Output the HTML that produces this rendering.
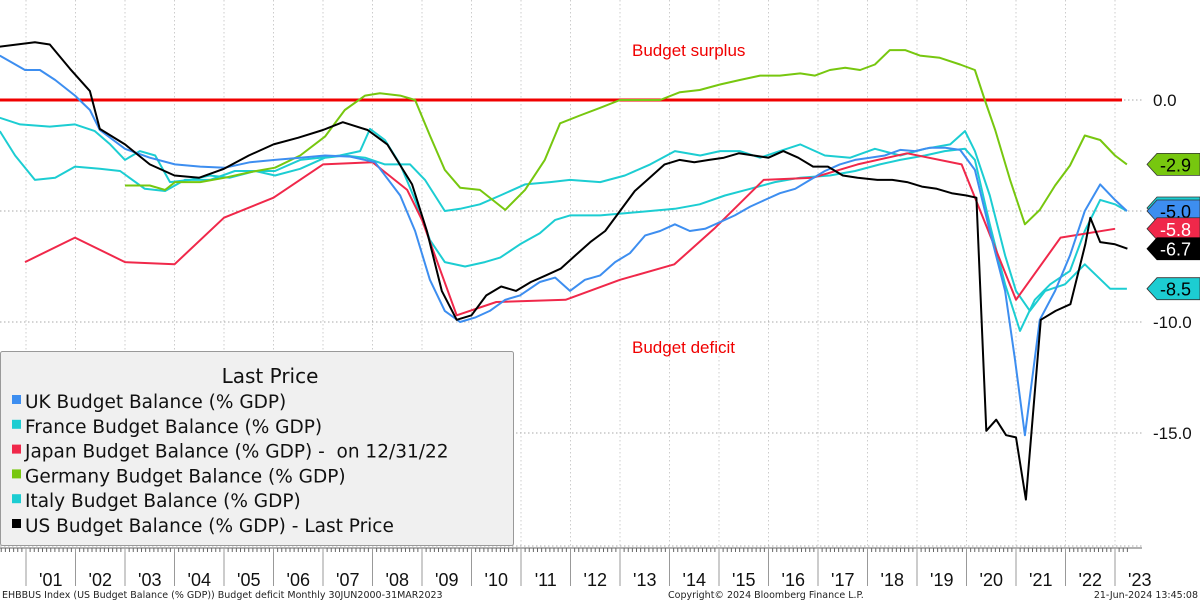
<!DOCTYPE html>
<html><head><meta charset="utf-8"><style>
body{margin:0;background:#fff;width:1200px;height:603px;overflow:hidden;font-family:"Liberation Sans","DejaVu Sans",sans-serif}
svg{display:block}
</style></head><body>
<svg id="chart" width="1200" height="603" viewBox="0 0 1200 603" xmlns="http://www.w3.org/2000/svg">
<g id="grid"></g>
<g id="series"></g>
<g id="axes"></g>
<text x="632" y="56" font-size="17" fill="#f00000">Budget surplus</text>
<text x="632" y="353" font-size="17" fill="#f00000">Budget deficit</text>
<g>
<rect x="0.5" y="351.5" width="513" height="194" fill="#f0f0f0" stroke="#999" rx="2"/>
<text x="270" y="383" font-size="20" font-family="DejaVu Sans, sans-serif" text-anchor="middle" fill="#111">Last Price</text>
<g id="legend-entries"></g>
</g>
<g font-family="DejaVu Sans, sans-serif" font-size="9.5" fill="#222">
<text x="2" y="598">EHBBUS Index (US Budget Balance (% GDP)) Budget deficit  Monthly 30JUN2000-31MAR2023</text>
<text x="668" y="598">Copyright© 2024 Bloomberg Finance L.P.</text>
<text x="1198" y="598" text-anchor="end">21-Jun-2024 13:45:08</text>
</g>
</svg>
<script>
const yTicks=[0,-5,-10,-15];
const yTickLabels=["0.0","","-10.0","-15.0"];
const yearLabels=["'01","'02","'03","'04","'05","'06","'07","'08","'09","'10","'11","'12","'13","'14","'15","'16","'17","'18","'19","'20","'21","'22","'23"];
const seriesNames=["UK Budget Balance (% GDP)","France Budget Balance (% GDP)","Japan Budget Balance (% GDP) -  on 12/31/22","Germany Budget Balance (% GDP)","Italy Budget Balance (% GDP)","US Budget Balance (% GDP) - Last Price"];
const seriesColors=["#3d8ef0","#1ccdd2","#f0284a","#77c70f","#1ccdd2","#000000"];
const lastValues=[-5.0,-5.0,-5.8,-2.9,-8.5,-6.7];
const ukT=[2000.47,2000.98,2001.28,2001.59,2001.99,2002.29,2002.49,2003.0,2003.5,2004.01,2004.52,2005.02,2005.53,2006.03,2006.54,2007.04,2007.55,2008.05,2008.56,2008.86,2009.16,2009.46,2009.77,2010.07,2010.37,2010.68,2010.98,2011.38,2011.69,2011.99,2012.29,2012.6,2012.9,2013.2,2013.51,2013.81,2014.11,2014.41,2014.72,2015.02,2015.32,2015.63,2015.93,2016.23,2016.54,2016.84,2017.14,2017.44,2017.75,2018.05,2018.35,2018.66,2018.96,2019.26,2019.57,2019.87,2020.17,2020.47,2020.78,2020.98,2021.18,2021.48,2021.79,2022.09,2022.39,2022.7,2023.0,2023.24];
const ukV=[2.0,1.35,1.35,0.9,0.2,-0.45,-1.35,-2.2,-2.6,-2.9,-3.0,-3.05,-2.8,-2.7,-2.6,-2.5,-2.55,-2.8,-4.3,-5.9,-8.1,-9.5,-10.0,-9.8,-9.5,-9.0,-8.8,-8.2,-8.0,-8.6,-8.1,-7.9,-7.3,-6.9,-6.1,-5.9,-5.6,-5.9,-5.8,-5.5,-5.2,-4.8,-4.5,-4.2,-4.0,-3.6,-3.2,-2.9,-2.7,-2.6,-2.5,-2.25,-2.3,-2.15,-2.15,-2.25,-3.15,-5.9,-8.6,-11.7,-15.1,-9.9,-8.6,-7.0,-5.0,-3.8,-4.5,-5.0];
const frT=[2000.47,2000.88,2001.48,2001.99,2002.39,2002.7,2003.0,2003.3,2003.61,2003.91,2004.31,2004.71,2005.12,2005.63,2006.03,2006.54,2006.94,2007.34,2007.75,2007.95,2008.25,2008.56,2008.86,2009.16,2009.46,2009.87,2010.27,2010.58,2010.98,2011.38,2011.69,2011.99,2012.6,2013.1,2013.61,2014.11,2014.61,2015.12,2015.63,2016.13,2016.64,2017.24,2017.75,2018.25,2018.66,2019.16,2019.56,2019.97,2020.17,2020.47,2020.78,2021.08,2021.38,2021.69,2022.09,2022.39,2022.7,2023.0,2023.24];
const frV=[-0.8,-1.1,-1.2,-1.1,-1.4,-2.0,-2.7,-2.3,-2.5,-3.7,-3.6,-3.4,-3.5,-3.2,-3.2,-2.7,-2.6,-2.5,-2.3,-1.3,-1.8,-2.9,-4.5,-6.3,-7.3,-7.5,-7.3,-7.1,-6.5,-6.0,-5.4,-5.2,-5.2,-5.1,-5.0,-4.9,-4.7,-4.3,-4.0,-3.7,-3.5,-3.4,-3.2,-2.9,-2.7,-2.5,-2.3,-2.2,-2.7,-5.6,-8.3,-10.4,-9.0,-8.3,-7.7,-5.9,-4.5,-4.7,-5.0];
const jpT=[2000.98,2001.99,2003.0,2004.0,2005.0,2006.0,2007.0,2008.0,2008.7,2009.0,2009.7,2010.5,2011.9,2013.0,2014.1,2014.9,2015.9,2016.9,2017.8,2018.8,2019.9,2021.0,2021.9,2023.0];
const jpV=[-7.3,-6.2,-7.3,-7.4,-5.3,-4.4,-2.9,-2.8,-4.05,-5.4,-9.7,-9.1,-9.0,-8.1,-7.4,-5.8,-3.6,-3.5,-2.9,-2.4,-2.9,-9.0,-6.2,-5.8];
const deT=[2003.0,2003.5,2003.81,2004.01,2004.52,2005.02,2005.53,2006.03,2006.54,2007.04,2007.44,2007.85,2008.15,2008.56,2008.86,2009.16,2009.46,2009.77,2010.17,2010.68,2011.08,2011.48,2011.79,2012.19,2012.6,2013.0,2013.4,2013.81,2014.21,2014.61,2015.02,2015.42,2015.83,2016.23,2016.64,2016.94,2017.24,2017.55,2017.85,2018.15,2018.45,2018.76,2019.06,2019.46,2019.87,2020.17,2020.37,2020.58,2020.88,2021.18,2021.48,2021.79,2022.09,2022.39,2022.7,2023.0,2023.24];
const deV=[-3.85,-3.85,-4.05,-3.7,-3.7,-3.5,-3.25,-3.05,-2.5,-1.65,-0.45,0.2,0.3,0.2,0,-1.6,-3.15,-3.95,-4.05,-4.95,-4.05,-2.7,-1.05,-0.7,-0.35,0,0,0,0.35,0.45,0.7,0.9,1.1,1.1,1.2,1.1,1.35,1.45,1.35,1.6,2.25,2.25,2.0,1.9,1.6,1.35,0,-1.35,-3.6,-5.6,-4.95,-3.85,-2.95,-1.6,-1.8,-2.5,-2.9];
const itT=[2000.47,2000.78,2001.18,2001.59,2001.99,2002.49,2002.9,2003.4,2003.81,2004.21,2004.72,2005.22,2005.63,2006.03,2006.54,2007.04,2007.44,2007.85,2008.25,2008.76,2009.06,2009.46,2009.77,2010.17,2010.58,2011.08,2011.59,2011.99,2012.6,2013.1,2013.61,2014.11,2014.62,2015.02,2015.42,2015.83,2016.23,2016.64,2017.14,2017.65,2018.15,2018.66,2019.16,2019.67,2019.97,2020.17,2020.47,2020.78,2021.0,2021.28,2021.59,2021.99,2022.39,2022.9,2023.24];
const itV=[-1.4,-2.5,-3.6,-3.5,-3.0,-3.1,-3.2,-4.0,-4.1,-3.6,-3.6,-3.2,-3.2,-3.4,-3.1,-2.6,-2.5,-2.6,-2.9,-2.9,-3.6,-5.0,-4.9,-4.7,-4.3,-3.8,-3.7,-3.6,-3.7,-3.4,-2.9,-2.3,-2.5,-2.3,-2.3,-2.6,-2.3,-2.0,-2.5,-2.6,-2.2,-2.5,-2.2,-2.0,-1.4,-2.3,-4.3,-7.0,-8.6,-9.5,-8.6,-8.3,-7.4,-8.5,-8.5];
const usT=[2000.47,2001.18,2001.48,2001.89,2002.29,2002.49,2003.0,2003.5,2004.0,2004.5,2005.0,2005.5,2006.0,2006.5,2007.0,2007.4,2007.9,2008.3,2008.8,2009.1,2009.4,2009.7,2010.0,2010.3,2010.6,2010.9,2011.2,2011.5,2011.8,2012.1,2012.4,2012.7,2013.0,2013.3,2013.6,2013.9,2014.2,2014.5,2014.8,2015.1,2015.4,2015.7,2016.0,2016.3,2016.6,2016.9,2017.2,2017.5,2017.8,2018.2,2018.5,2018.8,2019.1,2019.4,2019.7,2020.0,2020.2,2020.4,2020.6,2020.8,2021.0,2021.2,2021.5,2021.8,2022.1,2022.4,2022.5,2022.7,2023.0,2023.25];
const usV=[2.4,2.6,2.5,1.4,0.4,-1.3,-2.0,-2.9,-3.4,-3.5,-3.1,-2.5,-2.0,-1.7,-1.35,-1.0,-1.35,-2.0,-3.8,-5.9,-8.6,-9.9,-9.7,-8.8,-8.4,-8.6,-8.2,-7.9,-7.6,-7.0,-6.4,-5.9,-5.0,-4.1,-3.5,-2.9,-2.7,-2.8,-2.7,-2.6,-2.4,-2.5,-2.6,-2.3,-2.6,-3.0,-3.0,-3.4,-3.5,-3.6,-3.6,-3.7,-3.9,-4.0,-4.2,-4.3,-4.4,-14.9,-14.4,-15.1,-15.2,-18.0,-9.9,-9.5,-9.2,-6.5,-5.3,-6.4,-6.5,-6.7];

const NS="http://www.w3.org/2000/svg";
const X=t=>26+(t-2001)*49.5;
const Y=v=>100-v*22.2;
function mk(tag,attrs,parent){const e=document.createElementNS(NS,tag);for(const k in attrs)e.setAttribute(k,attrs[k]);parent.appendChild(e);return e;}
const grid=document.getElementById('grid'),axes=document.getElementById('axes'),ser=document.getElementById('series');
for(let i=0;i<=yearLabels.length-1;i++){
  const x=X(2001+i);
  const l=mk('line',{x1:x,x2:x,y1:0,y2:546,stroke:'#ccc','stroke-dasharray':'1.5,2.5'},grid);
  
  
}
yTicks.forEach((v,i)=>{
  const l=mk('line',{x1:0,x2:1142,y1:Y(v),y2:Y(v),stroke:'#aaa','stroke-dasharray':'1.5,2.5'},grid);
  
  
  if(yTickLabels[i]){
    const t=mk('text',{x:1153,y:Y(v)+6,'font-size':17,fill:'#111'},axes);t.textContent=yTickLabels[i];
    
    
  }
});
mk('line',{x1:0,x2:1142,y1:546,y2:546,stroke:'#aaa','stroke-dasharray':'1.5,2.5'},grid);
const zl=mk('line',{x1:0,x2:1122,y1:Y(0),y2:Y(0),stroke:'#f00000','stroke-width':3},grid);


mk('line',{x1:0,x2:1142,y1:548,y2:548,stroke:'#666'},axes);
for(let m=6;m<=279;m++){const x=X(2000+m/12);mk('line',{x1:x,x2:x,y1:548,y2:552,stroke:'#666'},axes);}
yearLabels.forEach((lab,i)=>{
  const x0=X(2001+i);
  mk('line',{x1:x0,x2:x0,y1:548,y2:586,stroke:'#999'},axes);
  const t=mk('text',{x:X(2001.5+i),y:586,'font-size':18,'text-anchor':'middle',fill:'#111'},axes);t.textContent=lab;
  
  
});
const allT=[ukT,frT,jpT,deT,itT,usT],allV=[ukV,frV,jpV,deV,itV,usV];
const order=[4,1,2,3,0,5];
order.forEach(i=>{
  const d=allT[i].map((t,j)=>(j?'L':'M')+X(t).toFixed(1)+','+Y(allV[i][j]).toFixed(1)).join('');
  const p=mk('path',{d:d,fill:'none',stroke:seriesColors[i],'stroke-width':2,'stroke-linejoin':'round'},ser);
  
  
});
[1,3,0,2,5,4].forEach(i=>{
  let y=Y(lastValues[i]); if(i===1)y-=3;
  const g=mk('g',{},axes);
  
  
  mk('path',{d:`M1147,${y}L1157,${y-11}L1200,${y-11}L1200,${y+11}L1157,${y+11}Z`,fill:seriesColors[i],stroke:i===5?'#000':'#333','stroke-width':0.8},g);
  const t=mk('text',{x:1160,y:y+7,'font-size':18,fill:(i===2||i===5)?'#fff':'#000'},g);t.textContent=lastValues[i].toFixed(1);
});
const le=document.getElementById('legend-entries');
seriesNames.forEach((n,i)=>{
  const y=408+i*24.8;
  const g=mk('g',{},le);
  
  
  mk('rect',{x:12,y:y-13,width:9,height:9,fill:seriesColors[i]},g);
  const t=mk('text',{x:25,y:y,'font-size':18.5,'font-family':'DejaVu Sans, sans-serif',fill:'#111',style:'white-space:pre'},g);t.textContent=n;
});
</script>
</body></html>
